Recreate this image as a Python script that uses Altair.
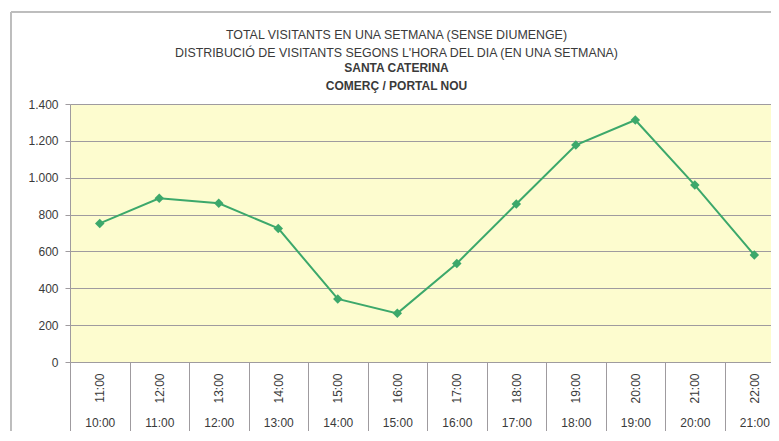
import json
import altair as alt
import pandas as pd

# ---- data ----
start_hours = ["10:00", "11:00", "12:00", "13:00", "14:00", "15:00",
               "16:00", "17:00", "18:00", "19:00", "20:00", "21:00"]
end_hours = ["11:00", "12:00", "13:00", "14:00", "15:00", "16:00",
             "17:00", "18:00", "19:00", "20:00", "21:00", "22:00"]
visitants = [752, 888, 861, 725, 342, 264, 535, 857, 1177, 1313, 960, 580]
y_ticks = [0, 200, 400, 600, 800, 1000, 1200, 1400]
title_lines = ["TOTAL VISITANTS EN UNA SETMANA (SENSE DIUMENGE)",
               "DISTRIBUCIÓ DE VISITANTS SEGONS L'HORA DEL DIA (EN UNA SETMANA)"]
subtitle_lines = ["SANTA CATERINA", "COMERÇ / PORTAL NOU"]

df = pd.DataFrame({
    "pos": [i + 0.5 for i in range(len(start_hours))],
    "franja": start_hours,
    "visitants": visitants,
})

W, H = 701, 258
X_MAX = 11.78
half = W / X_MAX / 2
FONT = "Liberation Sans"
GREEN = "#3ca86b"
GRID = "#9f9b9f"
TXT = "#3a3a3a"
LBL = 12

xscale = alt.Scale(domain=[0, X_MAX], nice=False, zero=False)
yscale = alt.Scale(domain=[0, 1400], nice=False)

yaxis = alt.Axis(values=y_ticks, grid=True, gridColor=GRID, gridWidth=1,
                 tickSize=5, tickColor=GRID, domainColor=GRID,
                 labelPadding=7, labelFontSize=LBL, labelColor=TXT, labelFont=FONT,
                 labelExpr="replace(format(datum.value, ','), ',', '.')",
                 title=None)

end_expr = json.dumps(end_hours) + "[floor(datum.value)]"
start_expr = json.dumps(start_hours) + "[floor(datum.value)]"

sep_axis = alt.Axis(orient="bottom", values=list(range(12)), ticks=True, tickSize=70,
                    tickColor=GRID, domain=True, domainColor=GRID, labels=False,
                    grid=False, title=None)
rot_axis = alt.Axis(orient="bottom", values=list(range(12)), ticks=False, domain=False,
                    grid=False, labelAngle=270, labelAlign="right", labelBaseline="middle",
                    labelOffset=half, labelPadding=11, labelExpr=end_expr,
                    labelFontSize=LBL, labelColor=TXT, labelFont=FONT, title=None)
hor_axis = alt.Axis(orient="bottom", values=list(range(12)), ticks=False, domain=False,
                    grid=False, labelAngle=0, labelAlign="center", labelBaseline="top",
                    labelOffset=half, labelPadding=55, labelExpr=start_expr,
                    labelFontSize=LBL, labelColor=TXT, labelFont=FONT, title=None)

base = alt.Chart(df)

frame = base.mark_rect(fill=None, stroke="#bdbdbd", strokeWidth=1).encode(
    x=alt.value(-59), y=alt.value(-92), x2=alt.value(900), y2=alt.value(600)
)

line = base.mark_line(color=GREEN, strokeWidth=2).encode(
    x=alt.X("pos:Q", scale=xscale, axis=sep_axis),
    y=alt.Y("visitants:Q", scale=yscale, axis=yaxis),
)
points = base.mark_point(shape="diamond", filled=True, color=GREEN, size=90, opacity=1).encode(
    x=alt.X("pos:Q", scale=xscale, axis=rot_axis),
    y=alt.Y("visitants:Q", scale=yscale, axis=yaxis),
)
labels_layer = base.mark_point(opacity=0).encode(
    x=alt.X("pos:Q", scale=xscale, axis=hor_axis),
    y=alt.Y("visitants:Q", scale=yscale, axis=yaxis),
)

chart = alt.layer(line, points, labels_layer, frame).resolve_axis(
    x="independent"
).properties(
    width=W, height=H,
    autosize=alt.AutoSizeParams(type="none"),
    padding={"left": 62, "top": 96, "right": 0, "bottom": 69},
    title=alt.TitleParams(
        text=title_lines, subtitle=subtitle_lines,
        anchor="middle", frame="group", dx=-24, offset=-80,
        font=FONT, fontSize=12.4, fontWeight="normal", color=TXT, lineHeight=18,
        subtitleFont=FONT, subtitleFontSize=12, subtitleFontWeight="bold",
        subtitleColor=TXT, subtitleLineHeight=18, subtitlePadding=3,
    ),
).configure(
    background="white"
).configure_view(
    fill="#fdfccf", stroke=None
)

chart.save("out.html", embed_options={"renderer": "svg", "actions": False})
